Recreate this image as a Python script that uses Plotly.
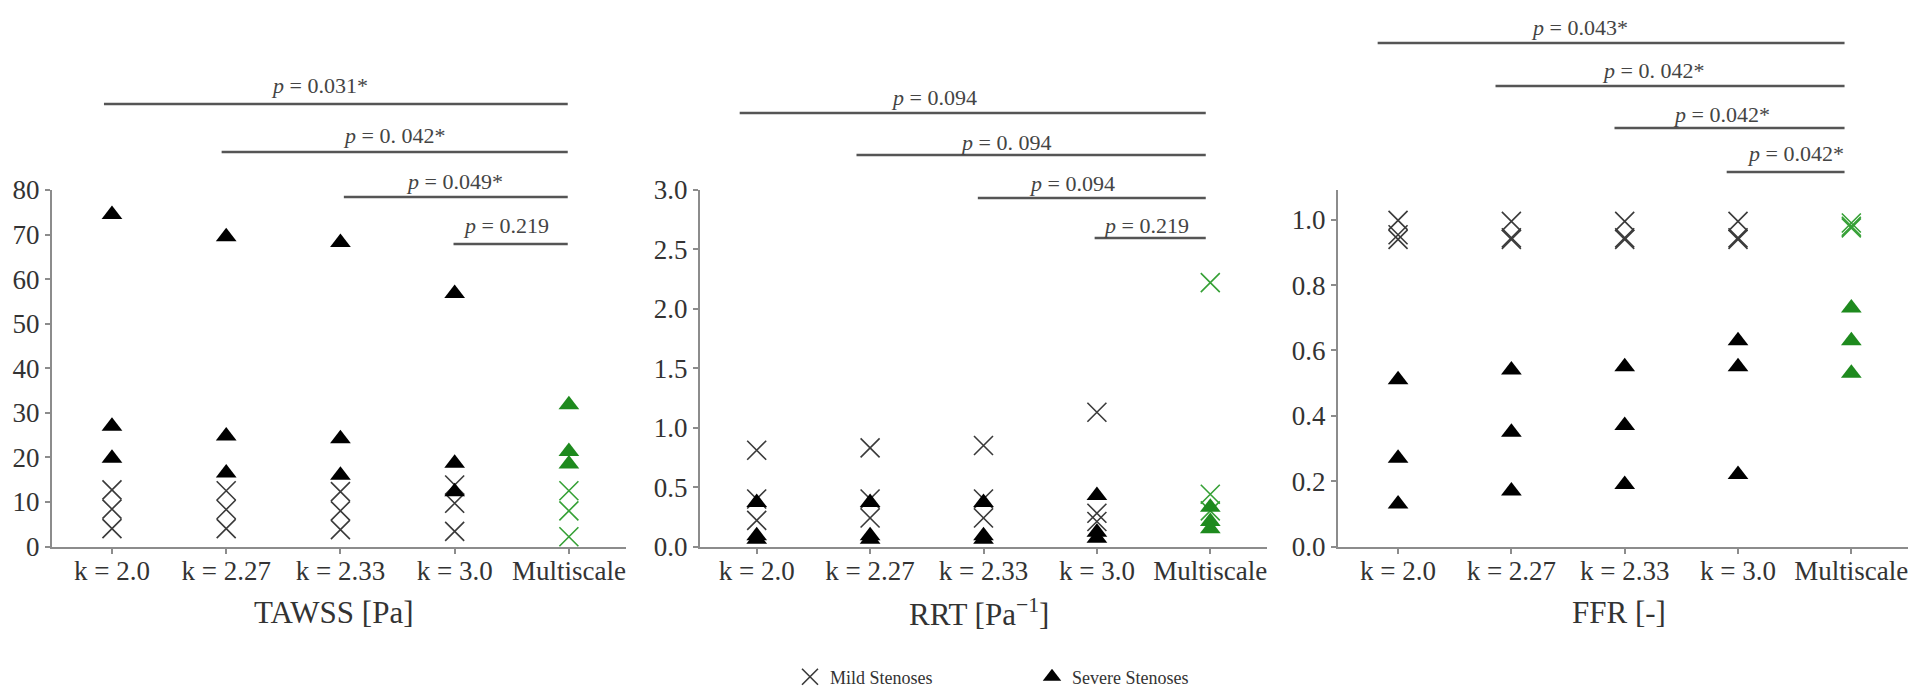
import plotly.graph_objects as go

W, H = 1923, 695
OFF = 8  # browser body margin offset of the figure div

categories = ["k = 2.0", "k = 2.27", "k = 2.33", "k = 3.0", "Multiscale"]

# TAWSS [Pa]
tawss_mild = [[12.7, 8.4, 4.0], [12.5, 8.3, 4.0], [12.3, 8.0, 3.8], [13.8, 9.7, 3.4], [12.5, 8.0, 2.2]]
tawss_severe = [[74.5, 27.0, 19.8], [69.5, 24.8, 16.5], [68.2, 24.2, 16.0], [56.8, 18.7, 12.3], [31.8, 21.3, 18.5]]

# RRT [Pa^-1]
rrt_mild = [[0.81, 0.40, 0.22], [0.83, 0.40, 0.24], [0.85, 0.40, 0.24], [1.13, 0.28, 0.21], [2.22, 0.44, 0.30]]
rrt_severe = [[0.37, 0.09, 0.06], [0.37, 0.09, 0.06], [0.37, 0.09, 0.06], [0.43, 0.12, 0.07], [0.33, 0.21, 0.15]]

# FFR [-]
ffr_mild = [[0.998, 0.954, 0.940], [0.995, 0.945, 0.940], [0.995, 0.945, 0.940], [0.995, 0.945, 0.940], [0.99, 0.98, 0.975]]
ffr_severe = [[0.51, 0.27, 0.13], [0.54, 0.35, 0.17], [0.55, 0.37, 0.19], [0.63, 0.55, 0.22], [0.73, 0.63, 0.53]]

# significance labels
tawss_p = ["<i>p</i> = 0.031*", "<i>p</i> = 0. 042*", "<i>p</i> = 0.049*", "<i>p</i> = 0.219"]
rrt_p = ["<i>p</i> = 0.094", "<i>p</i> = 0. 094", "<i>p</i> = 0.094", "<i>p</i> = 0.219"]
ffr_p = ["<i>p</i> = 0.043*", "<i>p</i> = 0. 042*", "<i>p</i> = 0.042*", "<i>p</i> = 0.042*"]
sig_start = [0, 1, 2, 3]
sig_end = 4

titles = ["TAWSS [Pa]", "RRT [Pa<sup>\u22121</sup>]", "FFR [-]"]

# layout (screen pixel positions)
panels = [
    dict(mild=tawss_mild, severe=tawss_severe, p=tawss_p, yrange=[0, 80], dtick=10, fmt="d",
         dom=(52, 626), xr=[-0.525, 4.5], sig_y=[104, 152, 197, 244], txt_y=[85, 135, 182, 225],
         st_off=[-0.07, -0.04, 0.03, -0.01], end_off=-0.01, txt_x=[1.82, 2.47, 3.0, 3.45], title_x=334),
    dict(mild=rrt_mild, severe=rrt_severe, p=rrt_p, yrange=[0, 3.0], dtick=0.5, fmt=".1f",
         dom=(700, 1267), xr=[-0.5, 4.5], sig_y=[113, 155, 198, 238], txt_y=[98, 142, 183, 225],
         st_off=[-0.15, -0.12, -0.05, -0.02], end_off=-0.04, txt_x=[1.56, 2.19, 2.78, 3.43], title_x=979),
    dict(mild=ffr_mild, severe=ffr_severe, p=ffr_p, yrange=[0, 1.091], dtick=0.2, fmt=".1f",
         dom=(1338, 1908), xr=[-0.53, 4.5], sig_y=[43, 86, 128, 172], txt_y=[27, 70, 115, 153],
         st_off=[-0.18, -0.14, -0.09, -0.10], end_off=-0.06, txt_x=[1.60, 2.25, 2.85, 3.51], title_x=1619),
]

FONT = "Liberation Serif, Times New Roman, serif"
GREY_X = "#3a3a3a"
GREEN_X = "#35a035"
GREEN_T = "#1e8a1e"
AXIS = "#8c8c8c"


def px_x(v):
    return (v - OFF) / W


def px_y(v):
    return 1 - (v - OFF) / H


fig = go.Figure()
shapes, annotations = [], []
ydom = [px_y(546.5), px_y(190)]

for i, pnl in enumerate(panels):
    sfx = "" if i == 0 else str(i + 1)
    xa, ya = "x" + sfx, "y" + sfx
    xs, ys = [], []
    for c in range(4):
        for v in pnl["mild"][c]:
            xs.append(c); ys.append(v)
    fig.add_trace(go.Scatter(x=xs, y=ys, mode="markers", xaxis=xa, yaxis=ya,
                             name="Mild Stenoses", showlegend=(i == 0), cliponaxis=False,
                             marker=dict(symbol="x-thin", size=19, color=GREY_X,
                                         line=dict(width=1.6, color=GREY_X))))
    fig.add_trace(go.Scatter(x=[4] * len(pnl["mild"][4]), y=pnl["mild"][4], mode="markers",
                             xaxis=xa, yaxis=ya, showlegend=False, cliponaxis=False,
                             marker=dict(symbol="x-thin", size=19, color=GREEN_X,
                                         line=dict(width=1.6, color=GREEN_X))))
    xs, ys = [], []
    for c in range(4):
        for v in pnl["severe"][c]:
            xs.append(c); ys.append(v)
    fig.add_trace(go.Scatter(x=xs, y=ys, mode="markers", xaxis=xa, yaxis=ya,
                             name="Severe Stenoses", showlegend=(i == 0), cliponaxis=False,
                             marker=dict(symbol="triangle-up", size=18, color="black",
                                         line=dict(width=0))))
    fig.add_trace(go.Scatter(x=[4] * len(pnl["severe"][4]), y=pnl["severe"][4], mode="markers",
                             xaxis=xa, yaxis=ya, showlegend=False, cliponaxis=False,
                             marker=dict(symbol="triangle-up", size=18, color=GREEN_T,
                                         line=dict(width=0))))

    d0, d1 = pnl["dom"]
    common = dict(showline=True, linecolor=AXIS, linewidth=2, ticks="outside", ticklen=5,
                  tickcolor=AXIS, tickwidth=1.5, showgrid=False, zeroline=False,
                  tickfont=dict(family=FONT, size=27, color="#333333"))
    fig.update_layout(**{
        "xaxis" + sfx: dict(domain=[px_x(d0), px_x(d1)], range=pnl["xr"], tickvals=[0, 1, 2, 3, 4],
                            ticktext=categories, anchor=ya, ticklabelstandoff=-6, **common),
        "yaxis" + sfx: dict(domain=ydom, range=pnl["yrange"], dtick=pnl["dtick"], tick0=0,
                            tickformat=pnl["fmt"], anchor=xa, **common),
    })

    for j, s in enumerate(sig_start):
        yl = px_y(pnl["sig_y"][j])
        shapes.append(dict(type="line", xref=xa, yref="paper",
                           x0=s + pnl["st_off"][j], x1=sig_end + pnl["end_off"], y0=yl, y1=yl,
                           line=dict(color="#555555", width=2.5)))
        annotations.append(dict(xref=xa, yref="paper", x=pnl["txt_x"][j],
                                y=px_y(pnl["txt_y"][j]), text=pnl["p"][j],
                                showarrow=False, xanchor="center", yanchor="middle",
                                font=dict(family=FONT, size=22, color="#444444")))
    annotations.append(dict(xref="paper", yref="paper", x=px_x(pnl["title_x"]), y=px_y(612),
                            text=titles[i], showarrow=False, xanchor="center", yanchor="middle",
                            font=dict(family=FONT, size=31, color="#333333")))

fig.update_layout(
    width=W, height=H, margin=dict(l=0, r=0, t=0, b=0, autoexpand=False),
    paper_bgcolor="white", plot_bgcolor="white",
    shapes=shapes, annotations=annotations,
    showlegend=True,
    legend=dict(orientation="h", x=px_x(790), xanchor="left", y=px_y(677), yanchor="middle",
                entrywidth=197, entrywidthmode="pixels", bgcolor="rgba(0,0,0,0)",
                font=dict(family=FONT, size=18, color="#333333")),
)

fig.write_html("out.html")
